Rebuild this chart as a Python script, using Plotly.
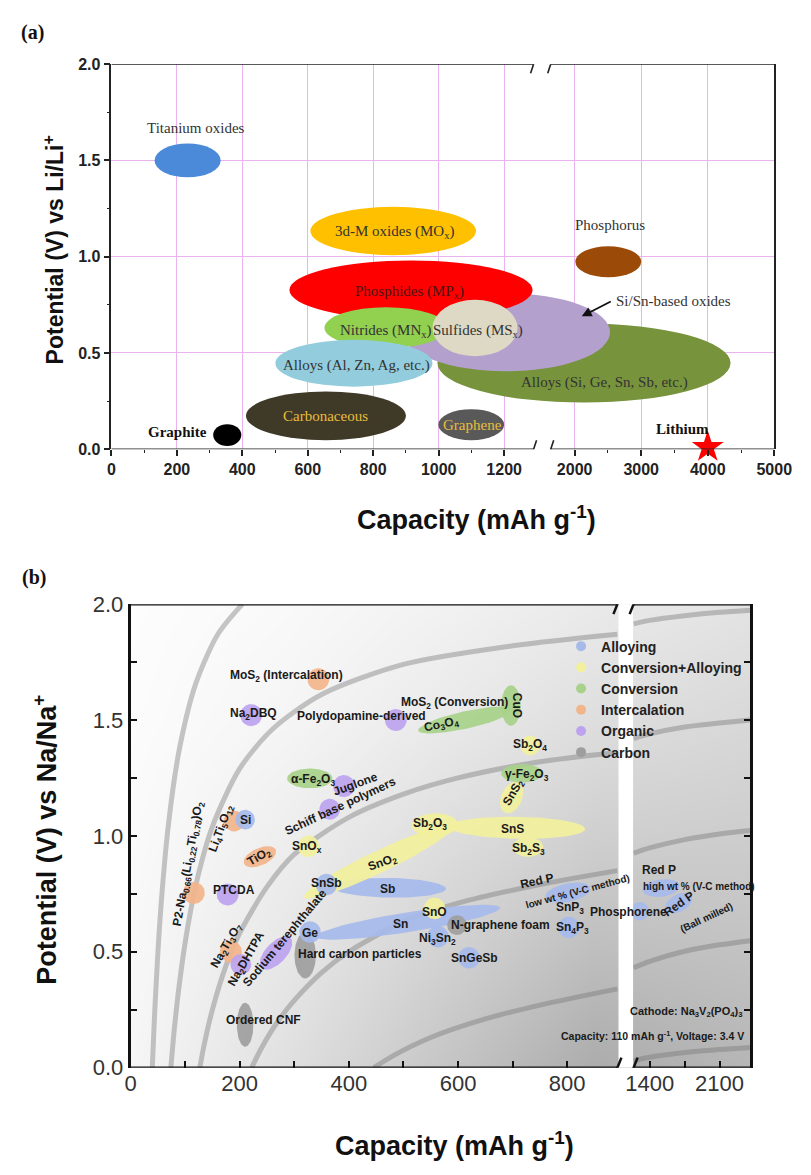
import numpy as np
import plotly.graph_objects as go

W, H = 811, 1175
SANS = "Arial, Liberation Sans, sans-serif"
NARROW = "Liberation Sans Narrow, Arial Narrow, Liberation Sans, sans-serif"
SERIF = "Times New Roman, Liberation Serif, serif"

# ====================== Panel (a) : Li-ion anodes ======================
a_names = ["Titanium oxides", "3d-M oxides", "Phosphorus", "Alloys (Si, Ge, Sn, Sb)",
           "Si/Sn-based oxides", "Phosphides", "Nitrides", "Alloys (Al, Zn, Ag)",
           "Sulfides", "Carbonaceous", "Graphene", "Graphite"]
a_cap_min = [132, 608, 2010, 996, 889, 544, 651, 501, 981, 411, 999, 311]
a_cap_max = [334, 1114, 3000, 4343, 2532, 1287, 1027, 981, 1241, 900, 1200, 397]
a_v_min = [1.412, 1.008, 0.893, 0.242, 0.405, 0.673, 0.525, 0.325, 0.483, 0.047, 0.047, 0.017]
a_v_max = [1.588, 1.259, 1.054, 0.653, 0.810, 0.980, 0.737, 0.568, 0.776, 0.300, 0.208, 0.130]

a_label_text = ["Titanium oxides", "3d-M oxides (MO<sub>x</sub>)", "Phosphorus",
                "Alloys (Si, Ge, Sn, Sb, etc.)", "Si/Sn-based oxides", "Phosphides (MP<sub>x</sub>)",
                "Nitrides (MN<sub>x</sub>)", "Alloys (Al, Zn, Ag, etc.)", "Sulfides (MS<sub>x</sub>)",
                "Carbonaceous", "Graphene", "Graphite", "Lithium"]
a_label_cap = [260, 866, 2535, 2447, 2594, 912, 838, 748, 1119, 654, 1103, 299, 3617]
a_label_v = [1.669, 1.127, 1.166, 0.348, 0.771, 0.817, 0.614, 0.436, 0.614, 0.170, 0.127, 0.088, 0.107]

li_cap = [4000]
li_v = [0.01]
arrow_from = (2565, 0.771)
arrow_to = (2106, 0.690)

a_xtick_major = [0, 200, 400, 600, 800, 1000, 1200, 2000, 3000, 4000, 5000]
a_xtick_minor = [100, 300, 500, 700, 900, 1100, 2500, 3500, 4500]
a_ytick_major = [0.0, 0.5, 1.0, 1.5, 2.0]
a_ytick_minor = [0.25, 0.75, 1.25, 1.75]

# styles (a)
a_fill = {"Titanium oxides": "#4A8AD8", "3d-M oxides": "#FFC000", "Phosphorus": "#9C4A08",
          "Alloys (Si, Ge, Sn, Sb)": "#77933C", "Si/Sn-based oxides": "#B4A0CC",
          "Phosphides": "#FF0000", "Nitrides": "#92D050", "Alloys (Al, Zn, Ag)": "#93CDDD",
          "Sulfides": "#DDD9C4", "Carbonaceous": "#3F3A28", "Graphene": "#595959",
          "Graphite": "#000000"}

# broken x axis (a): linear left part, compressed right part
A_LEFT_MAX, A_RIGHT_MIN, A_RIGHT_MAX = 1290.0, 1640.0, 5000.0
A_GAP, A_RATIO = 52.3, 0.2033


def ua(c):
    return c if c <= A_LEFT_MAX else A_LEFT_MAX + A_GAP + (c - A_RIGHT_MIN) * A_RATIO


A_UMAX = ua(A_RIGHT_MAX)

# ====================== Panel (b) : Na-ion anodes ======================
categories = ["Alloying", "Conversion+Alloying", "Conversion", "Intercalation", "Organic", "Carbon"]
cat_color = {"Alloying": "#A6BAEA", "Conversion+Alloying": "#F2F09C", "Conversion": "#A8D18A",
             "Intercalation": "#F2B48A", "Organic": "#BDA3EF", "Carbon": "#9E9E9E"}

# blobs: category, capacity/voltage of the two ends, voltage thickness
blob_cat = ["Carbon", "Carbon", "Alloying", "Alloying",
            "Conversion+Alloying", "Conversion+Alloying", "Conversion+Alloying", "Conversion+Alloying",
            "Conversion+Alloying", "Conversion+Alloying", "Conversion+Alloying", "Conversion+Alloying",
            "Alloying", "Alloying", "Alloying", "Alloying", "Carbon",
            "Alloying", "Alloying", "Alloying", "Alloying", "Alloying",
            "Intercalation", "Alloying", "Intercalation", "Intercalation", "Intercalation", "Intercalation",
            "Conversion", "Conversion", "Conversion", "Conversion",
            "Organic", "Organic", "Organic", "Organic", "Organic", "Organic", "Organic"]
blob_c1 = [320, 210, 340, 370,
           318, 515, 584, 700, 686, 732, 326, 557,
           359, 329, 563, 620, 598,
           760, 803, 1300, 1330, 1560,
           190, 210, 208, 116, 184, 344,
           287, 679, 527, 697,
           221, 486, 391, 365, 178, 202, 240]
blob_v1 = [0.385, 0.090, 0.565, 0.780,
           0.735, 1.045, 1.040, 0.952, 1.100, 1.390, 0.955, 0.687,
           0.790, 0.585, 0.565, 0.474, 0.615,
           0.735, 0.605, 0.675, 0.765, 0.680,
           1.064, 1.070, 0.880, 0.754, 0.500, 1.676,
           1.248, 1.270, 1.455, 1.475,
           1.521, 1.500, 1.215, 1.115, 0.747, 0.445, 0.430]
blob_c2 = [320, 210, 677, 578,
           590, 600, 833, 756, 710, 732, 326, 557,
           359, 329, 563, 620, 598,
           842, 803, 1300, 1700, 1820,
           190, 210, 266, 116, 184, 344,
           370, 755, 700, 697,
           221, 486, 391, 365, 178, 202, 293]
blob_v2 = [0.585, 0.280, 0.690, 0.772,
           1.040, 1.050, 1.030, 0.952, 1.230, 1.390, 0.955, 0.687,
           0.790, 0.585, 0.565, 0.474, 0.615,
           0.775, 0.605, 0.675, 0.785, 0.740,
           1.064, 1.070, 0.940, 0.754, 0.500, 1.676,
           1.248, 1.270, 1.545, 1.650,
           1.521, 1.500, 1.215, 1.115, 0.747, 0.445, 0.560]
blob_t = [0.093, 0.072, 0.085, 0.085,
          0.095, 0.100, 0.095, 0.085, 0.090, 0.085, 0.093, 0.093,
          0.093, 0.093, 0.093, 0.093, 0.085,
          0.080, 0.093, 0.080, 0.075, 0.075,
          0.090, 0.085, 0.075, 0.095, 0.095, 0.095,
          0.085, 0.080, 0.075, 0.085,
          0.095, 0.095, 0.095, 0.090, 0.095, 0.090, 0.090]

# iso-energy curves (capacity, potential); None splits the break
curves = {
    "100": ([40, 45, 55, 70, 90, 120, 160, 205],
            [0.00, 0.27, 0.67, 1.06, 1.38, 1.66, 1.87, 2.00]),
    "150": ([74, 80, 90, 105, 125, 150, 200, 260, 350, 500, 700, 892, None, 1239, 1400, 1750, 2100, 2408],
            [0.00, 0.16, 0.37, 0.61, 0.84, 1.04, 1.29, 1.46, 1.61, 1.74, 1.82, 1.87, None, 1.915, 1.93, 1.95, 1.965, 1.974]),
    "200": ([127, 135, 150, 175, 200, 250, 300, 400, 500, 600, 750, 892, None, 1239, 1400, 1750, 2100, 2408],
            [0.00, 0.10, 0.25, 0.44, 0.58, 0.78, 0.92, 1.08, 1.18, 1.25, 1.32, 1.36, None, 1.42, 1.44, 1.47, 1.487, 1.50]),
    "250": ([222, 240, 270, 300, 350, 400, 500, 600, 750, 892, None, 1239, 1400, 1750, 2100, 2408],
            [0.00, 0.085, 0.20, 0.29, 0.41, 0.50, 0.63, 0.71, 0.79, 0.85, None, 0.925, 0.948, 0.984, 1.008, 1.023]),
    "300": ([446, 480, 550, 650, 750, 892, None, 1239, 1400, 1750, 2100, 2408],
            [0.00, 0.05, 0.13, 0.21, 0.27, 0.34, None, 0.431, 0.459, 0.502, 0.530, 0.548]),
    "345": ([1239, 1400, 1750, 2100, 2408],
            [0.03, 0.045, 0.065, 0.078, 0.087]),
}

# background shading (grey level) sampled across the panel
bg_cap = [0, 284, 568, 852, 2408]
bg_v = [0.0, 0.5, 1.0, 1.5, 2.0]
bg_grey = [[246, 224, 198, 172, 182],
           [248, 231, 210, 190, 194],
           [250, 238, 222, 207, 205],
           [252, 245, 234, 222, 216],
           [253, 249, 242, 234, 227]]

b_label_text = ["MoS<sub>2</sub> (Intercalation)", "Na<sub>2</sub>DBQ", "Polydopamine-derived",
                "MoS<sub>2</sub> (Conversion)", "CuO", "Co<sub>3</sub>O<sub>4</sub>",
                "Sb<sub>2</sub>O<sub>4</sub>", "γ-Fe<sub>2</sub>O<sub>3</sub>", "SnS<sub>2</sub>",
                "α-Fe<sub>2</sub>O<sub>3</sub>", "Juglone", "Schiff base polymers", "Si",
                "Li<sub>4</sub>Ti<sub>5</sub>O<sub>12</sub>", "TiO<sub>2</sub>", "SnO<sub>x</sub>",
                "P2-Na<sub>0.66</sub>(Li<sub>0.22</sub>Ti<sub>0.78</sub>)O<sub>2</sub>", "PTCDA",
                "Na<sub>2</sub>Ti<sub>3</sub>O<sub>7</sub>", "Na<sub>2</sub>DHTPA", "Sodium terephthalate",
                "SnSb", "Sb", "SnO<sub>2</sub>", "Sb<sub>2</sub>O<sub>3</sub>", "SnS",
                "Sb<sub>2</sub>S<sub>3</sub>", "Ge", "Sn", "SnO", "N-graphene foam",
                "Ni<sub>3</sub>Sn<sub>2</sub>", "SnGeSb", "Hard carbon particles", "Ordered CNF",
                "Red P", "low wt % (V-C method)", "SnP<sub>3</sub>", "Sn<sub>4</sub>P<sub>3</sub>",
                "Phosphorene", "Red P", "high wt % (V-C method)", "Red P", "(Ball milled)"]
b_label_cap = [286, 225, 424, 593, 707, 569, 732, 726, 702, 335, 412, 385, 210, 166, 237, 323,
               106, 190, 176, 213, 282, 359, 471, 462, 548, 699, 729, 329, 495, 557, 677,
               563, 630, 421, 243, 744, 818, 806, 809, 838, 1496, 1316, 1691, 1968]
b_label_v = [1.690, 1.526, 1.517, 1.573, 1.564, 1.479, 1.390, 1.264, 1.184, 1.240, 1.226, 1.127,
             1.070, 1.030, 0.909, 0.951, 0.880, 0.768, 0.526, 0.470, 0.561, 0.795, 0.771,
             0.881, 1.050, 1.029, 0.944, 0.580, 0.620, 0.672, 0.616, 0.557, 0.473, 0.489,
             0.205, 0.804, 0.761, 0.691, 0.602, 0.670, 0.853, 0.782, 0.705, 0.649]
b_label_angle = [0, 0, 0, 0, 90, -12, 0, 0, -60, 0, -20, -25, 0, -70, -30, 0, -80, 0, -60, -60,
                 -50, 0, 0, -20, 0, 0, 0, 0, 0, 0, 0, 0, 0, 0, 0, -12, -15, 0, 0, 0, 0, 0, -35, -25]
b_label_anchor = ["center"] * len(b_label_text)
b_label_anchor[39] = "left"
b_label_anchor[41] = "left"
b_label_small = {36, 41, 43}

b_xtick_caps = [0, 100, 200, 300, 400, 500, 600, 700, 800, 1400, 1750, 2100]
b_xtick_text = ["0", "", "200", "", "400", "", "600", "", "800", "1400", "", "2100"]
b_ytick_vals = [0.0, 0.25, 0.5, 0.75, 1.0, 1.25, 1.5, 1.75, 2.0]
b_ytick_text = ["0.0", "", "0.5", "", "1.0", "", "1.5", "", "2.0"]

B_LEFT_MAX, B_RIGHT_MIN, B_RIGHT_MAX = 892.0, 1239.0, 2408.0
B_GAP, B_RATIO = 29.66, 0.18286


def ub(c):
    if c is None:
        return None
    return c if c <= B_LEFT_MAX else B_LEFT_MAX + B_GAP + (c - B_RIGHT_MIN) * B_RATIO


B_UMAX = ub(B_RIGHT_MAX)

# ---------------------------- layout geometry ----------------------------
A_DX = [108.6 / W, 791.7 / W]
A_DY = [1 - 446.7 / H, 1 - 53.3 / H]
B_DX = [128.3 / W, 767.0 / W]
B_DY = [1 - 1078.6 / H, 1 - 605.0 / H]

fig = go.Figure()

# ---- panel (a) traces ----
fig.add_trace(go.Scatter(x=[ua(c) for c in li_cap], y=li_v, mode="markers",
                         marker=dict(symbol="star", size=24, color="#FF0000", line=dict(width=0)),
                         cliponaxis=False, showlegend=False, hoverinfo="skip",
                         xaxis="x", yaxis="y"))

# ---- panel (b) traces ----
fig.add_trace(go.Heatmap(x=[ub(c) for c in bg_cap], y=bg_v, z=bg_grey, zmin=0, zmax=255,
                         colorscale=[[0, "rgb(0,0,0)"], [1, "rgb(255,255,255)"]],
                         zsmooth="best", showscale=False, hoverinfo="skip",
                         xaxis="x2", yaxis="y2"))

for key, (cc, vv) in curves.items():
    fig.add_trace(go.Scatter(x=[ub(c) for c in cc], y=vv, mode="lines",
                             line=dict(color="rgba(115,115,115,0.40)", width=5, shape="spline",
                                       smoothing=0.8),
                             connectgaps=False, showlegend=False, hoverinfo="skip",
                             xaxis="x2", yaxis="y2"))

KX = (B_DX[1] - B_DX[0]) * W / B_UMAX
KY = (B_DY[1] - B_DY[0]) * H / 2.0
theta = np.linspace(0, 2 * np.pi, 73)


def ellipse_poly(c1, v1, c2, v2, t):
    x1, y1 = ub(c1) * KX, v1 * KY
    x2, y2 = ub(c2) * KX, v2 * KY
    cx, cy = (x1 + x2) / 2, (y1 + y2) / 2
    half = np.hypot(x2 - x1, y2 - y1) / 2
    b = t * KY / 2
    a = max(half, b)
    phi = np.arctan2(y2 - y1, x2 - x1)
    px = cx + a * np.cos(theta) * np.cos(phi) - b * np.sin(theta) * np.sin(phi)
    py = cy + a * np.cos(theta) * np.sin(phi) + b * np.sin(theta) * np.cos(phi)
    return px / KX, py / KY


for cat, c1, v1, c2, v2, t in zip(blob_cat, blob_c1, blob_v1, blob_c2, blob_v2, blob_t):
    ex, ey = ellipse_poly(c1, v1, c2, v2, t)
    fig.add_trace(go.Scatter(x=ex, y=ey, mode="lines", fill="toself",
                             fillcolor=cat_color[cat], line=dict(width=0), opacity=0.92,
                             showlegend=False, hoverinfo="skip", xaxis="x2", yaxis="y2"))

for cat in categories:
    fig.add_trace(go.Scatter(x=[None], y=[None], mode="markers", name=cat,
                             marker=dict(size=10, color=cat_color[cat]),
                             xaxis="x2", yaxis="y2"))

# ---------------------------- shapes ----------------------------
shapes = []
for name, c0, c1, v0, v1 in zip(a_names, a_cap_min, a_cap_max, a_v_min, a_v_max):
    shapes.append(dict(type="circle", xref="x", yref="y", x0=ua(c0), x1=ua(c1), y0=v0, y1=v1,
                       fillcolor=a_fill[name], line=dict(width=0), layer="between"))

# frame lines (a) with break
for yv in (0.0, 2.0):
    for s0, s1 in ((0, A_LEFT_MAX), (A_RIGHT_MIN, A_RIGHT_MAX)):
        shapes.append(dict(type="line", xref="x", yref="y", x0=ua(s0), x1=ua(s1), y0=yv, y1=yv,
                           line=dict(color="#222", width=1.6), layer="above"))
    for xb in (ua(A_LEFT_MAX), ua(A_RIGHT_MIN)):
        shapes.append(dict(type="line", xref="x", yref="y", xsizemode="pixel", xanchor=xb,
                           ysizemode="pixel", yanchor=yv, x0=-3, x1=3, y0=-9, y1=9,
                           line=dict(color="#222", width=1.6), layer="above"))

# white band at the break (b)
shapes.append(dict(type="rect", xref="x2", yref="y2", x0=ub(B_LEFT_MAX) + 2, x1=ub(B_RIGHT_MIN) - 1,
                   y0=0, y1=2, fillcolor="white", line=dict(width=0), layer="above"))
for yv in (0.0, 2.0):
    for s0, s1 in ((0, B_LEFT_MAX), (B_RIGHT_MIN, B_RIGHT_MAX)):
        shapes.append(dict(type="line", xref="x2", yref="y2", x0=ub(s0), x1=ub(s1), y0=yv, y1=yv,
                           line=dict(color="#111", width=2.5), layer="above"))
    for xb in (ub(B_LEFT_MAX), ub(B_RIGHT_MIN)):
        shapes.append(dict(type="line", xref="x2", yref="y2", xsizemode="pixel", xanchor=xb,
                           ysizemode="pixel", yanchor=yv, x0=-4, x1=4, y0=-10, y1=10,
                           line=dict(color="#111", width=2.5), layer="above"))

# ---------------------------- annotations ----------------------------
ann = []
for i, (txt, c, v) in enumerate(zip(a_label_text, a_label_cap, a_label_v)):
    col, bold, anchor = "#333333", False, "center"
    if txt in ("Carbonaceous", "Graphene"):
        col = "#E8BC3C"
    if txt.startswith("Phosphides"):
        col = "#4A1414"
    if txt in ("Graphite", "Lithium"):
        col, bold = "#111111", True
    if txt == "Graphite":
        anchor = "right"
    if txt == "Si/Sn-based oxides":
        anchor = "left"
    ann.append(dict(x=ua(c), y=v, xref="x", yref="y", text=txt, showarrow=False,
                    xanchor=anchor, yanchor="middle",
                    font=dict(family=SERIF, size=15, color=col, weight="bold" if bold else "normal")))
ann.append(dict(x=ua(arrow_to[0]), y=arrow_to[1], ax=ua(arrow_from[0]), ay=arrow_from[1],
                xref="x", yref="y", axref="x", ayref="y", text="", showarrow=True,
                arrowhead=2, arrowsize=1.1, arrowwidth=1.8, arrowcolor="#111"))

for i, (txt, c, v, ang, anc) in enumerate(zip(b_label_text, b_label_cap, b_label_v,
                                              b_label_angle, b_label_anchor)):
    ann.append(dict(x=ub(c), y=v, xref="x2", yref="y2", text=txt, showarrow=False,
                    textangle=ang, xanchor=anc, yanchor="middle",
                    font=dict(family=SANS, size=10 if i in b_label_small else 12,
                              color="#1a1a1a", weight="bold")))


def paper_text(px, py, txt, size, family=SANS, angle=0, xanchor="center", bold=True, color="#111"):
    return dict(x=px / W, y=1 - py / H, xref="paper", yref="paper", text=txt, showarrow=False,
                xanchor=xanchor, yanchor="middle", textangle=angle,
                font=dict(family=family, size=size, color=color,
                          weight="bold" if bold else "normal"))


ann += [
    paper_text(760, 1022, "Cathode: Na<sub>3</sub>V<sub>2</sub>(PO<sub>4</sub>)<sub>3</sub>", 11,
               xanchor="right", color="#1a1a1a"),
    paper_text(763, 1046, "Capacity: 110 mAh g<sup>-1</sup>, Voltage: 3.4 V", 10.5,
               xanchor="right", color="#1a1a1a"),
    paper_text(27, 21, "(a)", 20, family=SERIF),
    paper_text(29, 578, "(b)", 20, family=SERIF),
    paper_text(49, 243, "Potential (V) vs Li/Li<sup>+</sup>", 23, angle=-90),
    paper_text(485, 517, "Capacity (mAh g<sup>-1</sup>)", 27),
    paper_text(40, 846, "Potential (V) vs Na/Na<sup>+</sup>", 27, angle=-90),
    paper_text(462, 1157, "Capacity (mAh g<sup>-1</sup>)", 27),
]

GRID = "#EBB2F0"
fig.update_layout(
    autosize=True, margin=dict(l=0, r=0, t=0, b=0, pad=0),
    paper_bgcolor="white", plot_bgcolor="white",
    xaxis=dict(domain=A_DX, range=[0, A_UMAX], showline=False, zeroline=False,
               tickmode="array", tickvals=[ua(c) for c in a_xtick_major],
               ticktext=[str(c) for c in a_xtick_major], ticklabeloverflow="allow",
               ticks="outside", ticklen=6, tickwidth=1.5, tickcolor="#222",
               tickfont=dict(family=NARROW, size=16, color="#222", weight="bold"),
               showgrid=True, gridcolor=GRID, gridwidth=1,
               minor=dict(tickmode="array", tickvals=[ua(c) for c in a_xtick_minor],
                          ticks="outside", ticklen=3, tickwidth=1.2, tickcolor="#222", showgrid=False),
               anchor="y", fixedrange=True),
    yaxis=dict(domain=A_DY, range=[0, 2], showline=True, linecolor="#222", linewidth=1.6,
               mirror=True, zeroline=False, tickmode="array", tickvals=a_ytick_major,
               ticktext=["%.1f" % v for v in a_ytick_major], ticklabeloverflow="allow",
               ticks="outside", ticklen=6, tickwidth=1.5, tickcolor="#222",
               tickfont=dict(family=NARROW, size=16, color="#222", weight="bold"),
               showgrid=True, gridcolor=GRID, gridwidth=1,
               minor=dict(tickmode="array", tickvals=a_ytick_minor, ticks="outside",
                          ticklen=3, tickwidth=1.2, tickcolor="#222", showgrid=False),
               anchor="x", fixedrange=True),
    xaxis2=dict(domain=B_DX, range=[0, B_UMAX], showline=False, zeroline=False, showgrid=False,
                tickmode="array", tickvals=[ub(c) for c in b_xtick_caps], ticktext=b_xtick_text,
                ticklabeloverflow="allow",
                ticks="inside", ticklen=7, tickwidth=2, tickcolor="#111",
                tickfont=dict(family=SANS, size=22, color="#333"),
                anchor="y2", fixedrange=True),
    yaxis2=dict(domain=B_DY, range=[0, 2], showline=True, linecolor="#111", linewidth=2.5,
                mirror="ticks", zeroline=False, showgrid=False, tickmode="array",
                tickvals=b_ytick_vals, ticktext=b_ytick_text, ticklabeloverflow="allow",
                ticks="inside", ticklen=7, tickwidth=2, tickcolor="#111",
                tickfont=dict(family=SANS, size=22, color="#333"),
                anchor="x2", fixedrange=True),
    legend=dict(x=572 / W, y=1 - 632 / H, xanchor="left", yanchor="top",
                bgcolor="rgba(0,0,0,0)", borderwidth=0, itemwidth=30, tracegroupgap=0,
                font=dict(family=SANS, size=14, color="#222", weight="bold")),
    shapes=shapes, annotations=ann, showlegend=True,
)

fig.write_html("out.html",
               default_width="%dpx;position:absolute;left:0;top:0" % W,
               default_height="%dpx" % H,
               config={"displayModeBar": False, "responsive": False},
               post_script="document.body.style.margin='0';")
